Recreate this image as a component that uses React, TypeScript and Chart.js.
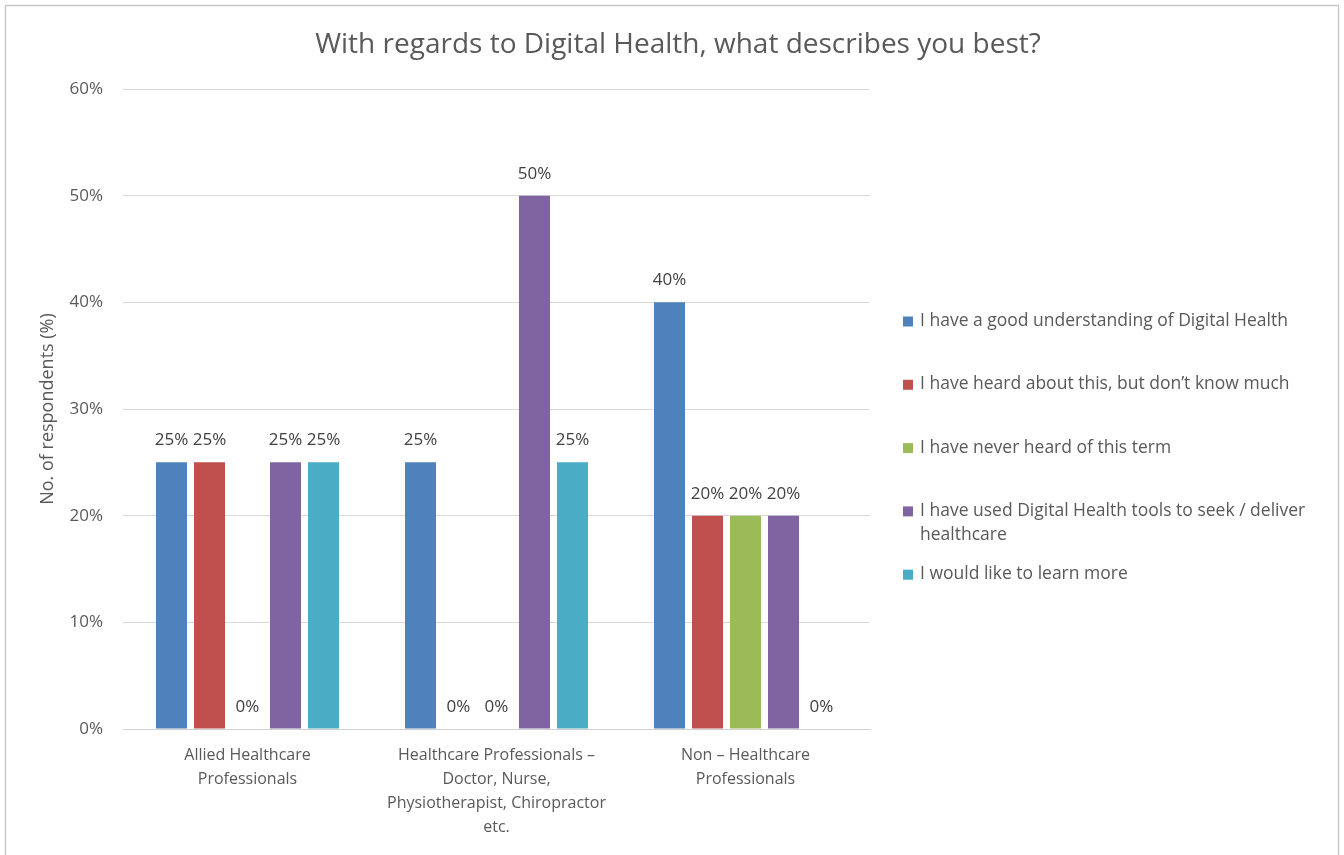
import React, { useEffect, useRef } from "react";
import { Chart, registerables } from "chart.js";

Chart.register(...registerables);

const TITLE = "With regards to Digital Health, what describes you best?";
const Y_TITLE = "No. of respondents (%)";
const CATEGORIES: string[][] = [
  ["Allied Healthcare", "Professionals"],
  ["Healthcare Professionals –", "Doctor, Nurse,", "Physiotherapist, Chiropractor", "etc."],
  ["Non – Healthcare", "Professionals"],
];
const SERIES_NAMES = [
  "I have a good understanding of Digital Health",
  "I have heard about this, but don’t know much",
  "I have never heard of this term",
  "I have used Digital Health tools to seek / deliver healthcare",
  "I would like to learn more",
];
const GOOD_UNDERSTANDING = [25, 25, 40];
const HEARD_NOT_MUCH = [25, 0, 20];
const NEVER_HEARD = [0, 0, 20];
const USED_TOOLS = [25, 50, 20];
const LEARN_MORE = [25, 25, 0];
const SERIES_VALUES = [GOOD_UNDERSTANDING, HEARD_NOT_MUCH, NEVER_HEARD, USED_TOOLS, LEARN_MORE];
const COLORS = ["#4F81BD", "#C0504D", "#9BBB59", "#8064A2", "#4BACC6"];
const Y_MIN = 0;
const Y_MAX = 60;
const Y_STEP = 10;

const FONT = "'Open Sans', 'DejaVu Sans', sans-serif";
const TEXT = "#595959";

const framePlugin = {
  id: "frame",
  beforeDraw(chart: any) {
    const { ctx } = chart;
    ctx.save();
    ctx.fillStyle = "#ffffff";
    ctx.fillRect(0, 0, chart.width, chart.height);
    ctx.strokeStyle = "#c8c8c8";
    ctx.lineWidth = 1.5;
    ctx.strokeRect(5.5, 5.5, chart.width - 11, chart.height + 20);
    ctx.restore();
  },
};

const titlePlugin = {
  id: "customTitle",
  afterDraw(chart: any) {
    const { ctx } = chart;
    ctx.save();
    ctx.font = `28px ${FONT}`;
    ctx.fillStyle = TEXT;
    ctx.textAlign = "center";
    ctx.textBaseline = "middle";
    ctx.fillText(TITLE, 678, 45);
    ctx.restore();
  },
};

const dataLabelPlugin = {
  id: "dataLabels",
  afterDatasetsDraw(chart: any) {
    const { ctx } = chart;
    ctx.save();
    ctx.font = `17px ${FONT}`;
    ctx.fillStyle = "#404040";
    ctx.textAlign = "center";
    ctx.textBaseline = "middle";
    chart.data.datasets.forEach((ds: any, i: number) => {
      const meta = chart.getDatasetMeta(i);
      meta.data.forEach((bar: any, j: number) => {
        const v = ds.data[j];
        ctx.fillText(`${v}%`, bar.x, bar.y - 22);
      });
    });
    ctx.restore();
  },
};

const legendPlugin = {
  id: "customLegend",
  afterDraw(chart: any) {
    const { ctx } = chart;
    ctx.save();
    ctx.font = `17.5px ${FONT}`;
    ctx.textBaseline = "middle";
    ctx.textAlign = "left";
    const x0 = 903;
    const textX = 920;
    const maxW = 405;
    const startY = 321;
    const gap = 63.3;
    chart.data.datasets.forEach((ds: any, i: number) => {
      const y = startY + i * gap;
      ctx.fillStyle = ds.backgroundColor;
      ctx.fillRect(x0, y - 4.5, 10, 10);
      ctx.fillStyle = TEXT;
      const words = String(ds.label).split(" ");
      const lines: string[] = [];
      let cur = "";
      words.forEach((w) => {
        const test = cur ? cur + " " + w : w;
        if (ctx.measureText(test).width > maxW && cur) {
          lines.push(cur);
          cur = w;
        } else cur = test;
      });
      if (cur) lines.push(cur);
      lines.forEach((ln, k) => ctx.fillText(ln, textX, y + k * 24));
    });
    ctx.restore();
  },
};

export default function App() {
  const ref = useRef<HTMLCanvasElement>(null);
  useEffect(() => {
    if (!ref.current) return;
    const chart = new Chart(ref.current, {
      type: "bar",
      data: {
        labels: CATEGORIES as any,
        datasets: SERIES_NAMES.map((name, i) => ({
          label: name,
          data: SERIES_VALUES[i],
          backgroundColor: COLORS[i],
          borderWidth: 0,
          categoryPercentage: 0.763,
          barPercentage: 0.816,
        })),
      },
      options: {
        animation: false,
        responsive: true,
        maintainAspectRatio: false,
        layout: { padding: { top: 89, left: 0, right: 474, bottom: 0 } },
        plugins: {
          legend: { display: false },
          title: { display: false },
          tooltip: { enabled: false },
        },
        scales: {
          x: {
            grid: { display: false, drawTicks: false },
            border: { display: true, color: "#d0d0d0", width: 1 },
            ticks: {
              color: TEXT,
              font: { family: FONT, size: 16, lineHeight: 1.5 },
              padding: 14,
              maxRotation: 0,
              autoSkip: false,
            },
            afterFit: (s: any) => {
              s.height = 126;
            },
          },
          y: {
            min: Y_MIN,
            max: Y_MAX,
            ticks: {
              stepSize: Y_STEP,
              color: TEXT,
              font: { family: FONT, size: 17 },
              padding: 20,
              callback: (v: any) => `${v}%`,
            },
            grid: { color: "#d9d9d9", drawTicks: false },
            border: { display: false },
            title: {
              display: true,
              text: Y_TITLE,
              color: TEXT,
              font: { family: FONT, size: 18 },
              padding: { top: 37, bottom: 0 },
            },
            afterFit: (s: any) => {
              s.width = 123;
            },
          },
        },
      },
      plugins: [framePlugin, titlePlugin, dataLabelPlugin, legendPlugin],
    });
    return () => chart.destroy();
  }, []);
  return (
    <div style={{ position: "absolute", left: 0, top: 0, width: 1344, height: 855 }}>
      <canvas ref={ref} />
    </div>
  );
}
